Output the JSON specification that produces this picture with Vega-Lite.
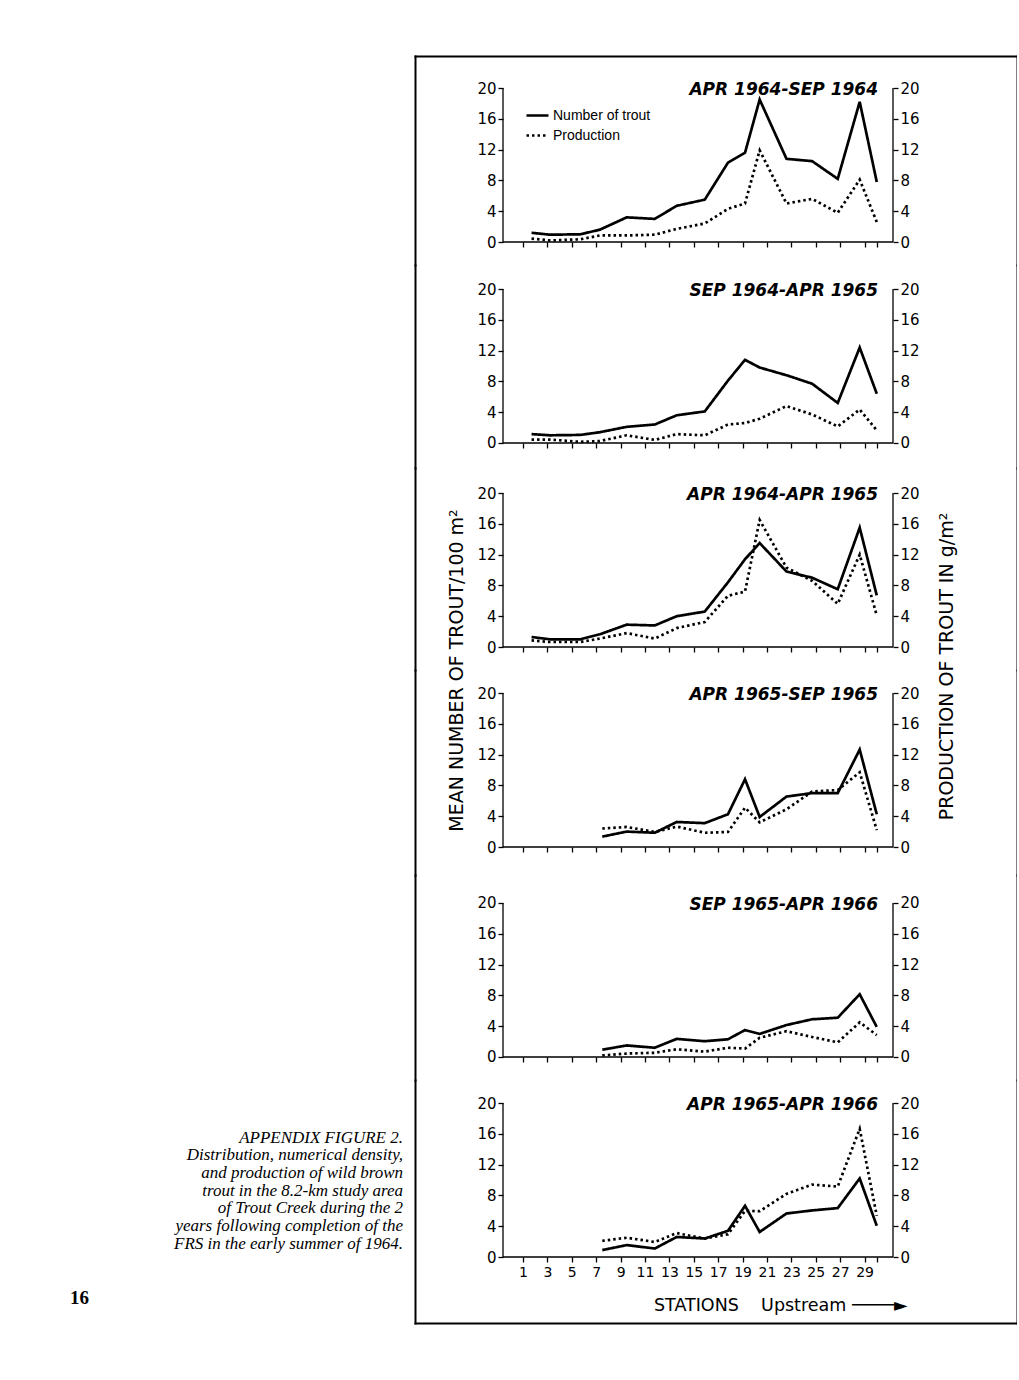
{
  "$schema": "https://vega.github.io/schema/vega-lite/v6.json",
  "background": "white",
  "padding": {"left": 70, "top": 56, "right": 0, "bottom": 5},
  "config": {
    "view": {"stroke": null},
    "font": "DejaVu Sans",
    "axis": {"grid": false, "domainColor": "black", "tickColor": "black", "labelColor": "black", "titleColor": "black", "domainWidth": 1.3, "domainCap": "square", "tickWidth": 1.3, "tickSize": 5, "labelPadding": 2, "labelFont": "DejaVu Sans", "labelFontSize": 15, "titleFont": "DejaVu Sans", "titleFontWeight": "normal", "titleFontSize": 19},
    "axisX": {"labelOverlap": false, "labelBound": false, "labelFlush": false},
    "rule": {"color": "black", "strokeWidth": 1.3},
    "title": {"color": "black"},
    "legend": {"labelColor": "black"}
  },
  "title": {"text": "16", "orient": "bottom", "anchor": "start", "font": "Liberation Sans Narrow", "fontWeight": "bold", "fontSize": 19, "color": "black", "offset": -34},
  "data": {"values": [
    {"p": 1, "s": 1.7, "n": 1.2, "pr": 0.45},
    {"p": 1, "s": 3.2, "n": 0.95, "pr": 0.2},
    {"p": 1, "s": 5.7, "n": 1.0, "pr": 0.35},
    {"p": 1, "s": 7.3, "n": 1.6, "pr": 0.85},
    {"p": 1, "s": 9.5, "n": 3.2, "pr": 0.85},
    {"p": 1, "s": 11.8, "n": 3.0, "pr": 0.95},
    {"p": 1, "s": 13.6, "n": 4.7, "pr": 1.7},
    {"p": 1, "s": 15.9, "n": 5.5, "pr": 2.4},
    {"p": 1, "s": 17.8, "n": 10.3, "pr": 4.3},
    {"p": 1, "s": 19.2, "n": 11.6, "pr": 5.0},
    {"p": 1, "s": 20.4, "n": 18.5, "pr": 11.9},
    {"p": 1, "s": 22.6, "n": 10.8, "pr": 5.0},
    {"p": 1, "s": 24.7, "n": 10.5, "pr": 5.6},
    {"p": 1, "s": 26.8, "n": 8.2, "pr": 3.8},
    {"p": 1, "s": 28.6, "n": 18.2, "pr": 8.1},
    {"p": 1, "s": 30.0, "n": 7.8, "pr": 2.6},
    {"p": 2, "s": 1.7, "n": 1.15, "pr": 0.45},
    {"p": 2, "s": 3.2, "n": 1.0, "pr": 0.45},
    {"p": 2, "s": 5.7, "n": 1.05, "pr": 0.15},
    {"p": 2, "s": 7.3, "n": 1.4, "pr": 0.25},
    {"p": 2, "s": 9.5, "n": 2.1, "pr": 1.0},
    {"p": 2, "s": 11.8, "n": 2.4, "pr": 0.4},
    {"p": 2, "s": 13.6, "n": 3.6, "pr": 1.15},
    {"p": 2, "s": 15.9, "n": 4.1, "pr": 1.0},
    {"p": 2, "s": 17.8, "n": 8.1, "pr": 2.4},
    {"p": 2, "s": 19.2, "n": 10.8, "pr": 2.6},
    {"p": 2, "s": 20.4, "n": 9.8, "pr": 3.15},
    {"p": 2, "s": 22.6, "n": 8.8, "pr": 4.8},
    {"p": 2, "s": 24.7, "n": 7.7, "pr": 3.7},
    {"p": 2, "s": 26.8, "n": 5.2, "pr": 2.15},
    {"p": 2, "s": 28.6, "n": 12.4, "pr": 4.35},
    {"p": 2, "s": 30.0, "n": 6.4, "pr": 1.65},
    {"p": 3, "s": 1.7, "n": 1.3, "pr": 0.85},
    {"p": 3, "s": 3.2, "n": 1.0, "pr": 0.65},
    {"p": 3, "s": 5.7, "n": 1.0, "pr": 0.65},
    {"p": 3, "s": 7.3, "n": 1.65, "pr": 1.1},
    {"p": 3, "s": 9.5, "n": 2.9, "pr": 1.8},
    {"p": 3, "s": 11.8, "n": 2.8, "pr": 1.1},
    {"p": 3, "s": 13.6, "n": 4.0, "pr": 2.45},
    {"p": 3, "s": 15.9, "n": 4.6, "pr": 3.25},
    {"p": 3, "s": 17.8, "n": 8.4, "pr": 6.65},
    {"p": 3, "s": 19.2, "n": 11.4, "pr": 7.2},
    {"p": 3, "s": 20.4, "n": 13.5, "pr": 16.5},
    {"p": 3, "s": 22.6, "n": 9.8, "pr": 10.3},
    {"p": 3, "s": 24.7, "n": 9.0, "pr": 8.6},
    {"p": 3, "s": 26.8, "n": 7.5, "pr": 5.6},
    {"p": 3, "s": 28.6, "n": 15.5, "pr": 12.0},
    {"p": 3, "s": 30.0, "n": 6.7, "pr": 4.1},
    {"p": 4, "s": 7.5, "n": 1.35, "pr": 2.4},
    {"p": 4, "s": 9.5, "n": 2.0, "pr": 2.6},
    {"p": 4, "s": 11.8, "n": 1.85, "pr": 1.95},
    {"p": 4, "s": 13.6, "n": 3.25, "pr": 2.65},
    {"p": 4, "s": 15.9, "n": 3.1, "pr": 1.85},
    {"p": 4, "s": 17.8, "n": 4.25, "pr": 1.95},
    {"p": 4, "s": 19.2, "n": 8.8, "pr": 5.1},
    {"p": 4, "s": 20.4, "n": 3.9, "pr": 3.2},
    {"p": 4, "s": 22.6, "n": 6.55, "pr": 4.9},
    {"p": 4, "s": 24.7, "n": 7.0, "pr": 7.2},
    {"p": 4, "s": 26.8, "n": 7.0, "pr": 7.4},
    {"p": 4, "s": 28.6, "n": 12.65, "pr": 9.7},
    {"p": 4, "s": 30.0, "n": 4.25, "pr": 2.2},
    {"p": 5, "s": 7.5, "n": 0.95, "pr": 0.2},
    {"p": 5, "s": 9.5, "n": 1.5, "pr": 0.45},
    {"p": 5, "s": 11.8, "n": 1.2, "pr": 0.55},
    {"p": 5, "s": 13.6, "n": 2.35, "pr": 1.0},
    {"p": 5, "s": 15.9, "n": 2.05, "pr": 0.7},
    {"p": 5, "s": 17.8, "n": 2.3, "pr": 1.2},
    {"p": 5, "s": 19.2, "n": 3.5, "pr": 1.1},
    {"p": 5, "s": 20.4, "n": 3.0, "pr": 2.5},
    {"p": 5, "s": 22.6, "n": 4.15, "pr": 3.35},
    {"p": 5, "s": 24.7, "n": 4.9, "pr": 2.6},
    {"p": 5, "s": 26.8, "n": 5.1, "pr": 1.9},
    {"p": 5, "s": 28.6, "n": 8.15, "pr": 4.5},
    {"p": 5, "s": 30.0, "n": 3.9, "pr": 2.85},
    {"p": 6, "s": 7.5, "n": 0.9, "pr": 2.1},
    {"p": 6, "s": 9.5, "n": 1.55, "pr": 2.5},
    {"p": 6, "s": 11.8, "n": 1.1, "pr": 1.95},
    {"p": 6, "s": 13.6, "n": 2.6, "pr": 3.1},
    {"p": 6, "s": 15.9, "n": 2.4, "pr": 2.4},
    {"p": 6, "s": 17.8, "n": 3.4, "pr": 2.95},
    {"p": 6, "s": 19.2, "n": 6.65, "pr": 6.0},
    {"p": 6, "s": 20.4, "n": 3.25, "pr": 5.95},
    {"p": 6, "s": 22.6, "n": 5.65, "pr": 8.2},
    {"p": 6, "s": 24.7, "n": 6.05, "pr": 9.4},
    {"p": 6, "s": 26.8, "n": 6.35, "pr": 9.15},
    {"p": 6, "s": 28.6, "n": 10.2, "pr": 16.65},
    {"p": 6, "s": 30.0, "n": 4.05, "pr": 5.35}
  ]},
  "bounds": "flush",
  "spacing": 12,
  "hconcat": [
    {
      "data": {"values": [{"t": ""}]},
      "width": 333,
      "height": 1074,
      "mark": {"type": "text"},
      "encoding": {"text": {"field": "t"}},
      "title": {
        "text": "APPENDIX FIGURE 2.",
        "subtitle": ["Distribution, numerical density,", "and production of wild brown", "trout in the 8.2-km study area", "of Trout Creek during the 2", "years following completion of the", "FRS in the early summer of 1964."],
        "orient": "bottom", "anchor": "end", "offset": 0,
        "font": "Liberation Serif", "fontStyle": "italic", "fontWeight": "normal", "fontSize": 17, "color": "black",
        "subtitleFont": "Liberation Serif", "subtitleFontStyle": "italic", "subtitleFontSize": 17, "subtitleColor": "black", "subtitleLineHeight": 17.8, "subtitlePadding": 0
      }
    },
    {
      "bounds": "flush",
      "spacing": 0,
      "resolve": {"scale": {"strokeDash": "independent"}, "legend": {"strokeDash": "independent"}},
      "vconcat": [
        {
          "width": 602, "height": 209,
          "title": {"text": "APR 1964-SEP 1964", "anchor": "end", "frame": "group", "orient": "top", "offset": -55.5, "baseline": "alphabetic", "dx": -139, "font": "DejaVu Sans", "fontStyle": "italic", "fontWeight": "bold", "fontSize": 17},
          "layer": [
            {"transform": [{"filter": "datum.p == 1"}],
             "mark": {"type": "line", "color": "black", "strokeWidth": 2.7},
             "encoding": {
               "x": {"field": "s", "type": "quantitative", "scale": {"domain": [-7.854, 41.495], "nice": false, "zero": false}, "axis": {"orient": "bottom", "offset": -23, "domain": false, "values": [1,3,5,7,9,11,13,15,17,19,21,23,25,27,29,30], "labels": false, "title": null}},
               "y": {"field": "n", "type": "quantitative", "scale": {"domain": [-2.987, 24.156], "nice": false, "zero": false}, "axis": {"orient": "left", "offset": -88, "domain": false, "values": [0,4,8,12,16,20], "title": null}},
               "strokeDash": {"datum": "Number of trout", "type": "nominal", "scale": {"domain": ["Number of trout", "Production"], "range": [[1, 0], [2.5, 3]]},
                 "legend": {"orient": "none", "legendX": 110, "legendY": 47, "title": null, "symbolType": "stroke", "symbolSize": 484, "symbolStrokeWidth": 2.5, "symbolStrokeColor": "black", "labelFont": "Liberation Sans", "labelFontSize": 14, "labelOffset": 3, "rowPadding": -4}}
             }},
            {"transform": [{"filter": "datum.p == 1"}],
             "mark": {"type": "line", "color": "black", "strokeWidth": 2.7},
             "encoding": {
               "x": {"field": "s", "type": "quantitative", "axis": null},
               "y": {"field": "pr", "type": "quantitative", "axis": {"orient": "right", "offset": -124, "domain": false, "values": [0,4,8,12,16,20], "title": null}},
               "strokeDash": {"datum": "Production", "type": "nominal"}
             }},
            {"data": {"values": [{"k": 0}]}, "mark": "rule",
             "encoding": {"x": {"datum": -0.64, "type": "quantitative", "axis": null}, "y": {"datum": 0, "type": "quantitative", "axis": {"orient": "left", "offset": 0, "ticks": false, "labels": false, "domainWidth": 2, "title": null}}, "y2": {"datum": 20}}},
            {"data": {"values": [{"k": 0}]}, "mark": "rule",
             "encoding": {"x": {"datum": 31.33, "type": "quantitative", "axis": null}, "y": {"datum": 0, "type": "quantitative", "axis": {"orient": "right", "offset": 0, "ticks": false, "labels": false, "domainWidth": 2, "title": null}}, "y2": {"datum": 20}}},
            {"data": {"values": [{"k": 0}]}, "mark": "rule",
             "encoding": {"x": {"datum": -0.64, "type": "quantitative", "axis": {"orient": "top", "offset": 0, "ticks": false, "labels": false, "domainWidth": 2, "title": null}}, "x2": {"datum": 31.33}, "y": {"datum": 0, "type": "quantitative", "axis": null}}}
          ],
          "resolve": {"axis": {"x": "independent", "y": "independent"}}
        },
        {
          "width": 602, "height": 203,
          "title": {"text": "SEP 1964-APR 1965", "anchor": "end", "frame": "group", "orient": "top", "offset": -47.5, "baseline": "alphabetic", "dx": -139, "font": "DejaVu Sans", "fontStyle": "italic", "fontWeight": "bold", "fontSize": 17},
          "layer": [
            {"transform": [{"filter": "datum.p == 2"}],
             "mark": {"type": "line", "color": "black", "strokeWidth": 2.7},
             "encoding": {
               "x": {"field": "s", "type": "quantitative", "scale": {"domain": [-7.854, 41.495], "nice": false, "zero": false}, "axis": {"orient": "bottom", "offset": -25, "domain": false, "values": [1,3,5,7,9,11,13,15,17,19,21,23,25,27,29,30], "labels": false, "title": null}},
               "y": {"field": "n", "type": "quantitative", "scale": {"domain": [-3.247, 23.117], "nice": false, "zero": false}, "axis": {"orient": "left", "offset": -88, "domain": false, "values": [0,4,8,12,16,20], "title": null}},
               "strokeDash": {"datum": "Number of trout", "type": "nominal", "scale": {"domain": ["Number of trout", "Production"], "range": [[1, 0], [2.5, 3]]}, "legend": null}
             }},
            {"transform": [{"filter": "datum.p == 2"}],
             "mark": {"type": "line", "color": "black", "strokeWidth": 2.7},
             "encoding": {
               "x": {"field": "s", "type": "quantitative", "axis": null},
               "y": {"field": "pr", "type": "quantitative", "axis": {"orient": "right", "offset": -124, "domain": false, "values": [0,4,8,12,16,20], "title": null}},
               "strokeDash": {"datum": "Production", "type": "nominal", "legend": null}
             }},
            {"data": {"values": [{"k": 0}]}, "mark": "rule",
             "encoding": {"x": {"datum": -0.64, "type": "quantitative", "axis": null}, "y": {"datum": 0, "type": "quantitative", "axis": {"orient": "left", "offset": 0, "ticks": false, "labels": false, "domainWidth": 2, "title": null}}, "y2": {"datum": 20}}},
            {"data": {"values": [{"k": 0}]}, "mark": "rule",
             "encoding": {"x": {"datum": 31.33, "type": "quantitative", "axis": null}, "y": {"datum": 0, "type": "quantitative", "axis": {"orient": "right", "offset": 0, "ticks": false, "labels": false, "domainWidth": 2, "title": null}}, "y2": {"datum": 20}}},
            {"data": {"values": [{"k": 0}]}, "mark": "rule",
             "encoding": {"x": {"datum": -0.64, "type": "quantitative", "axis": null}, "x2": {"datum": 31.33}, "y": {"datum": 0, "type": "quantitative", "axis": null}}}
          ],
          "resolve": {"axis": {"x": "independent", "y": "independent"}}
        },
        {
          "width": 602, "height": 202,
          "title": {"text": "APR 1964-APR 1965", "anchor": "end", "frame": "group", "orient": "top", "offset": -48.5, "baseline": "alphabetic", "dx": -139, "font": "DejaVu Sans", "fontStyle": "italic", "fontWeight": "bold", "fontSize": 17},
          "layer": [
            {"transform": [{"filter": "datum.p == 3"}],
             "mark": {"type": "line", "color": "black", "strokeWidth": 2.7},
             "encoding": {
               "x": {"field": "s", "type": "quantitative", "scale": {"domain": [-7.854, 41.495], "nice": false, "zero": false}, "axis": {"orient": "bottom", "offset": -23, "domain": false, "values": [1,3,5,7,9,11,13,15,17,19,21,23,25,27,29,30], "labels": false, "title": null}},
               "y": {"field": "n", "type": "quantitative", "scale": {"domain": [-2.987, 23.247], "nice": false, "zero": false}, "axis": {"orient": "left", "offset": -88, "domain": false, "values": [0,4,8,12,16,20], "title": "MEAN NUMBER OF TROUT/100 m²", "titleY": 202, "titlePadding": 10}},
               "strokeDash": {"datum": "Number of trout", "type": "nominal", "scale": {"domain": ["Number of trout", "Production"], "range": [[1, 0], [2.5, 3]]}, "legend": null}
             }},
            {"transform": [{"filter": "datum.p == 3"}],
             "mark": {"type": "line", "color": "black", "strokeWidth": 2.7},
             "encoding": {
               "x": {"field": "s", "type": "quantitative", "axis": null},
               "y": {"field": "pr", "type": "quantitative", "axis": {"orient": "right", "offset": -124, "domain": false, "values": [0,4,8,12,16,20], "title": "PRODUCTION OF TROUT IN g/m²", "titleY": 198, "titleAngle": -90, "titlePadding": 37}},
               "strokeDash": {"datum": "Production", "type": "nominal", "legend": null}
             }},
            {"data": {"values": [{"k": 0}]}, "mark": "rule",
             "encoding": {"x": {"datum": -0.64, "type": "quantitative", "axis": null}, "y": {"datum": 0, "type": "quantitative", "axis": {"orient": "left", "offset": 0, "ticks": false, "labels": false, "domainWidth": 2, "title": null}}, "y2": {"datum": 20}}},
            {"data": {"values": [{"k": 0}]}, "mark": "rule",
             "encoding": {"x": {"datum": 31.33, "type": "quantitative", "axis": null}, "y": {"datum": 0, "type": "quantitative", "axis": {"orient": "right", "offset": 0, "ticks": false, "labels": false, "domainWidth": 2, "title": null}}, "y2": {"datum": 20}}},
            {"data": {"values": [{"k": 0}]}, "mark": "rule",
             "encoding": {"x": {"datum": -0.64, "type": "quantitative", "axis": null}, "x2": {"datum": 31.33}, "y": {"datum": 0, "type": "quantitative", "axis": null}}}
          ],
          "resolve": {"axis": {"x": "independent", "y": "independent"}}
        },
        {
          "width": 602, "height": 205,
          "title": {"text": "APR 1965-SEP 1965", "anchor": "end", "frame": "group", "orient": "top", "offset": -46.5, "baseline": "alphabetic", "dx": -139, "font": "DejaVu Sans", "fontStyle": "italic", "fontWeight": "bold", "fontSize": 17},
          "layer": [
            {"transform": [{"filter": "datum.p == 4"}],
             "mark": {"type": "line", "color": "black", "strokeWidth": 2.7},
             "encoding": {
               "x": {"field": "s", "type": "quantitative", "scale": {"domain": [-7.854, 41.495], "nice": false, "zero": false}, "axis": {"orient": "bottom", "offset": -28, "domain": false, "values": [1,3,5,7,9,11,13,15,17,19,21,23,25,27,29,30], "labels": false, "title": null}},
               "y": {"field": "n", "type": "quantitative", "scale": {"domain": [-3.636, 22.987], "nice": false, "zero": false}, "axis": {"orient": "left", "offset": -88, "domain": false, "values": [0,4,8,12,16,20], "title": null}},
               "strokeDash": {"datum": "Number of trout", "type": "nominal", "scale": {"domain": ["Number of trout", "Production"], "range": [[1, 0], [2.5, 3]]}, "legend": null}
             }},
            {"transform": [{"filter": "datum.p == 4"}],
             "mark": {"type": "line", "color": "black", "strokeWidth": 2.7},
             "encoding": {
               "x": {"field": "s", "type": "quantitative", "axis": null},
               "y": {"field": "pr", "type": "quantitative", "axis": {"orient": "right", "offset": -124, "domain": false, "values": [0,4,8,12,16,20], "title": null}},
               "strokeDash": {"datum": "Production", "type": "nominal", "legend": null}
             }},
            {"data": {"values": [{"k": 0}]}, "mark": "rule",
             "encoding": {"x": {"datum": -0.64, "type": "quantitative", "axis": null}, "y": {"datum": 0, "type": "quantitative", "axis": {"orient": "left", "offset": 0, "ticks": false, "labels": false, "domainWidth": 2, "title": null}}, "y2": {"datum": 20}}},
            {"data": {"values": [{"k": 0}]}, "mark": "rule",
             "encoding": {"x": {"datum": 31.33, "type": "quantitative", "axis": null}, "y": {"datum": 0, "type": "quantitative", "axis": {"orient": "right", "offset": 0, "ticks": false, "labels": false, "domainWidth": 2, "title": null}}, "y2": {"datum": 20}}},
            {"data": {"values": [{"k": 0}]}, "mark": "rule",
             "encoding": {"x": {"datum": -0.64, "type": "quantitative", "axis": null}, "x2": {"datum": 31.33}, "y": {"datum": 0, "type": "quantitative", "axis": null}}}
          ],
          "resolve": {"axis": {"x": "independent", "y": "independent"}}
        },
        {
          "width": 602, "height": 205,
          "title": {"text": "SEP 1965-APR 1966", "anchor": "end", "frame": "group", "orient": "top", "offset": -51.5, "baseline": "alphabetic", "dx": -139, "font": "DejaVu Sans", "fontStyle": "italic", "fontWeight": "bold", "fontSize": 17},
          "layer": [
            {"transform": [{"filter": "datum.p == 5"}],
             "mark": {"type": "line", "color": "black", "strokeWidth": 2.7},
             "encoding": {
               "x": {"field": "s", "type": "quantitative", "scale": {"domain": [-7.854, 41.495], "nice": false, "zero": false}, "axis": {"orient": "bottom", "offset": -23, "domain": false, "values": [1,3,5,7,9,11,13,15,17,19,21,23,25,27,29,30], "labels": false, "title": null}},
               "y": {"field": "n", "type": "quantitative", "scale": {"domain": [-2.987, 23.636], "nice": false, "zero": false}, "axis": {"orient": "left", "offset": -88, "domain": false, "values": [0,4,8,12,16,20], "title": null}},
               "strokeDash": {"datum": "Number of trout", "type": "nominal", "scale": {"domain": ["Number of trout", "Production"], "range": [[1, 0], [2.5, 3]]}, "legend": null}
             }},
            {"transform": [{"filter": "datum.p == 5"}],
             "mark": {"type": "line", "color": "black", "strokeWidth": 2.7},
             "encoding": {
               "x": {"field": "s", "type": "quantitative", "axis": null},
               "y": {"field": "pr", "type": "quantitative", "axis": {"orient": "right", "offset": -124, "domain": false, "values": [0,4,8,12,16,20], "title": null}},
               "strokeDash": {"datum": "Production", "type": "nominal", "legend": null}
             }},
            {"data": {"values": [{"k": 0}]}, "mark": "rule",
             "encoding": {"x": {"datum": -0.64, "type": "quantitative", "axis": null}, "y": {"datum": 0, "type": "quantitative", "axis": {"orient": "left", "offset": 0, "ticks": false, "labels": false, "domainWidth": 2, "title": null}}, "y2": {"datum": 20}}},
            {"data": {"values": [{"k": 0}]}, "mark": "rule",
             "encoding": {"x": {"datum": 31.33, "type": "quantitative", "axis": null}, "y": {"datum": 0, "type": "quantitative", "axis": {"orient": "right", "offset": 0, "ticks": false, "labels": false, "domainWidth": 2, "title": null}}, "y2": {"datum": 20}}},
            {"data": {"values": [{"k": 0}]}, "mark": "rule",
             "encoding": {"x": {"datum": -0.64, "type": "quantitative", "axis": null}, "x2": {"datum": 31.33}, "y": {"datum": 0, "type": "quantitative", "axis": null}}}
          ],
          "resolve": {"axis": {"x": "independent", "y": "independent"}}
        },
        {
          "width": 602, "height": 243,
          "title": {"text": "APR 1965-APR 1966", "anchor": "end", "frame": "group", "orient": "top", "offset": -46.5, "baseline": "alphabetic", "dx": -139, "font": "DejaVu Sans", "fontStyle": "italic", "fontWeight": "bold", "fontSize": 17},
          "layer": [
            {"transform": [{"filter": "datum.p == 6"}],
             "mark": {"type": "line", "color": "black", "strokeWidth": 2.7},
             "encoding": {
               "x": {"field": "s", "type": "quantitative", "scale": {"domain": [-7.854, 41.495], "nice": false, "zero": false}, "axis": {"orient": "bottom", "offset": -66, "domain": false, "values": [1,3,5,7,9,11,13,15,17,19,21,23,25,27,29,30], "labelExpr": "datum.value == 30 ? '' : datum.label", "labelFontSize": 14, "labelPadding": 3, "title": "STATIONS\u00a0\u00a0\u00a0\u00a0Upstream\u00a0────►", "titleFontSize": 17.5, "titleX": 492, "titleAlign": "right", "titlePadding": 17}},
               "y": {"field": "n", "type": "quantitative", "scale": {"domain": [-8.571, 22.987], "nice": false, "zero": false}, "axis": {"orient": "left", "offset": -88, "domain": false, "values": [0,4,8,12,16,20], "title": null}},
               "strokeDash": {"datum": "Number of trout", "type": "nominal", "scale": {"domain": ["Number of trout", "Production"], "range": [[1, 0], [2.5, 3]]}, "legend": null}
             }},
            {"transform": [{"filter": "datum.p == 6"}],
             "mark": {"type": "line", "color": "black", "strokeWidth": 2.7},
             "encoding": {
               "x": {"field": "s", "type": "quantitative", "axis": null},
               "y": {"field": "pr", "type": "quantitative", "axis": {"orient": "right", "offset": -124, "domain": false, "values": [0,4,8,12,16,20], "title": null}},
               "strokeDash": {"datum": "Production", "type": "nominal", "legend": null}
             }},
            {"data": {"values": [{"k": 0}]}, "mark": "rule",
             "encoding": {"x": {"datum": -0.64, "type": "quantitative", "axis": null}, "y": {"datum": 0, "type": "quantitative", "axis": {"orient": "left", "offset": 0, "ticks": false, "labels": false, "domainWidth": 2, "title": null}}, "y2": {"datum": 20}}},
            {"data": {"values": [{"k": 0}]}, "mark": "rule",
             "encoding": {"x": {"datum": 31.33, "type": "quantitative", "axis": null}, "y": {"datum": 0, "type": "quantitative", "axis": {"orient": "right", "offset": 0, "ticks": false, "labels": false, "domainWidth": 2, "title": null}}, "y2": {"datum": 20}}},
            {"data": {"values": [{"k": 0}]}, "mark": "rule",
             "encoding": {"x": {"datum": -0.64, "type": "quantitative", "axis": {"orient": "bottom", "offset": 0, "ticks": false, "labels": false, "domainWidth": 2, "title": null}}, "x2": {"datum": 31.33}, "y": {"datum": 0, "type": "quantitative", "axis": null}}}
          ],
          "resolve": {"axis": {"x": "independent", "y": "independent"}}
        }
      ]
    }
  ]
}
